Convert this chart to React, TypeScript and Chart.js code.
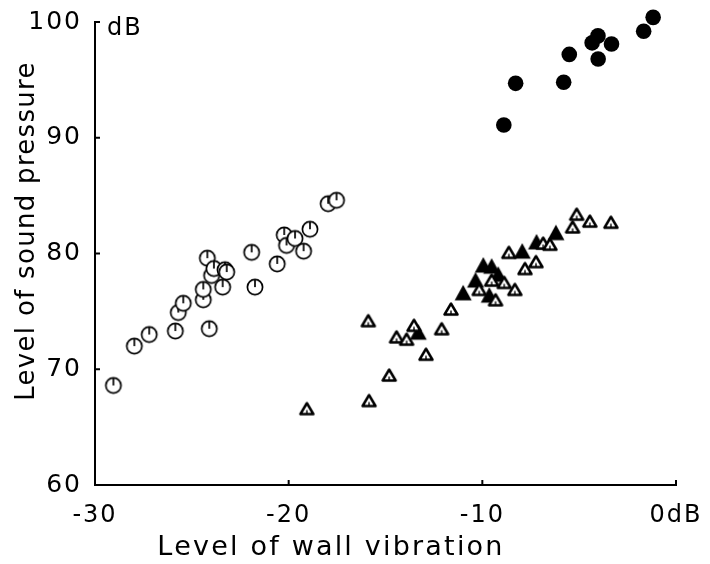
import React, { useEffect, useRef } from 'react';
import { Chart, registerables } from 'chart.js';

Chart.register(...registerables);

const W = 710;
const H = 564;

// ---- axis ticks & titles ----
const xTickValues = [-30, -20, -10, 0];
const xTickLabels = ['-30', '-20', '-10', '0dB'];
const yTickValues = [60, 70, 80, 90, 100];
const yTickLabels = ['60', '70', '80', '90', '100'];
const xTitle = 'Level of wall vibration';
const yTitle = 'Level of sound pressure';
const yUnit = 'dB';

// ---- series: filled circles ----
const filledCircleX = [-8.89, -8.28, -5.8, -5.51, -4.03, -4.33, -3.33, -4.02, -1.67, -1.18];
const filledCircleY = [91.1, 94.7, 94.8, 97.2, 98.8, 98.2, 98.1, 96.8, 99.2, 100.4];

// ---- series: open circles ----
const openCircleX = [-29.05, -27.97, -27.2, -25.85, -24.1, -25.7, -25.44, -24.41, -24.41, -23.41, -21.74, -24.2, -23.98, -23.86, -23.29, -23.2, -21.91, -20.59, -20.23, -20.11, -19.67, -19.23, -18.9, -17.96, -17.53];
const openCircleY = [68.6, 72.0, 73.0, 73.3, 73.5, 74.9, 75.7, 76.0, 76.9, 77.1, 77.1, 79.6, 78.1, 78.7, 78.6, 78.4, 80.1, 79.1, 81.6, 80.7, 81.3, 80.2, 82.1, 84.3, 84.6];

// ---- series: open triangles ----
const openTriangleX = [-19.06, -15.89, -15.85, -14.81, -13.53, -14.43, -13.91, -12.91, -12.1, -11.62, -10.16, -9.32, -9.52, -8.87, -8.32, -7.8, -7.23, -8.63, -6.86, -6.51, -5.34, -5.13, -4.45, -3.36];
const openTriangleY = [66.6, 74.2, 67.3, 69.5, 73.8, 72.8, 72.6, 71.3, 73.5, 75.2, 76.9, 76.0, 77.7, 77.5, 76.9, 78.7, 79.3, 80.1, 80.9, 80.8, 82.3, 83.4, 82.8, 82.7];

// ---- series: filled triangles ----
const filledTriangleX = [-13.31, -10.99, -10.35, -9.95, -9.52, -9.18, -9.64, -7.94, -7.2, -6.2];
const filledTriangleY = [73.2, 76.6, 77.7, 79.0, 78.9, 78.2, 76.4, 80.2, 81.0, 81.8];

const FONT = '"DejaVu Sans"';

function toPoints(xs: number[], ys: number[]) {
  return xs.map((x, i) => ({ x, y: ys[i] }));
}

function makeCanvas(w: number, h: number, draw: (ctx: CanvasRenderingContext2D) => void) {
  const c = document.createElement('canvas');
  c.width = w;
  c.height = h;
  const ctx = c.getContext('2d') as CanvasRenderingContext2D;
  draw(ctx);
  return c;
}

export default function App() {
  const ref = useRef<HTMLCanvasElement>(null);

  useEffect(() => {
    const openCircle = makeCanvas(20, 20, (ctx) => {
      ctx.fillStyle = '#fff';
      ctx.strokeStyle = '#000';
      ctx.lineWidth = 1.7;
      ctx.beginPath();
      ctx.arc(10, 10, 7.6, 0, Math.PI * 2);
      ctx.fill();
      ctx.stroke();
      ctx.beginPath();
      ctx.moveTo(10, 2.5);
      ctx.lineTo(10, 10);
      ctx.stroke();
    });
    const openTriangle = makeCanvas(18, 16, (ctx) => {
      ctx.fillStyle = '#fff';
      ctx.strokeStyle = '#000';
      ctx.lineWidth = 2.5;
      ctx.lineJoin = 'round';
      ctx.beginPath();
      ctx.moveTo(9, 2.5);
      ctx.lineTo(2.5, 13.5);
      ctx.lineTo(15.5, 13.5);
      ctx.closePath();
      ctx.fill();
      ctx.stroke();
      ctx.lineWidth = 1.4;
      ctx.beginPath();
      ctx.moveTo(9, 13);
      ctx.lineTo(9, 9.5);
      ctx.stroke();
    });
    const filledTriangle = makeCanvas(20, 18, (ctx) => {
      ctx.fillStyle = '#000';
      ctx.beginPath();
      ctx.moveTo(10, 1);
      ctx.lineTo(1.5, 16.5);
      ctx.lineTo(18.5, 16.5);
      ctx.closePath();
      ctx.fill();
    });

    const deco = {
      id: 'deco',
      beforeDraw(chart: any) {
        const ctx = chart.ctx;
        ctx.save();
        ctx.fillStyle = '#fff';
        ctx.fillRect(0, 0, chart.width, chart.height);
        ctx.restore();
        ctx.letterSpacing = '2px';
      },
      afterDraw(chart: any) {
        const { ctx, chartArea } = chart;
        const xs = chart.scales.x;
        const ys = chart.scales.y;
        ctx.save();
        ctx.strokeStyle = '#000';
        ctx.lineWidth = 2;
        for (const v of yTickValues.slice(1)) {
          const py = ys.getPixelForValue(v);
          ctx.beginPath();
          ctx.moveTo(chartArea.left, py);
          ctx.lineTo(chartArea.left + 5, py);
          ctx.stroke();
        }
        for (const v of xTickValues.slice(1)) {
          const px = xs.getPixelForValue(v);
          ctx.beginPath();
          ctx.moveTo(px, chartArea.bottom);
          ctx.lineTo(px, chartArea.bottom - 5);
          ctx.stroke();
        }
        ctx.fillStyle = '#000';
        ctx.textBaseline = 'middle';
        // unit near the top of the y axis
        ctx.font = `24px ${FONT}`;
        ctx.letterSpacing = '2px';
        ctx.textAlign = 'left';
        ctx.fillText(yUnit, chartArea.left + 12, ys.getPixelForValue(100) + 7);
        // axis titles
        ctx.font = `27px ${FONT}`;
        ctx.letterSpacing = '2.2px';
        ctx.textAlign = 'center';
        ctx.fillText(xTitle, chartArea.left + 236, chartArea.bottom + 63);
        ctx.font = `26px ${FONT}`;
        ctx.letterSpacing = '1.3px';
        ctx.translate(chartArea.left - 68, chartArea.top + 209);
        ctx.rotate(-Math.PI / 2);
        ctx.fillText(yTitle, 0, 0);
        ctx.restore();
      },
    };

    const chart = new Chart(ref.current as HTMLCanvasElement, {
      type: 'scatter',
      data: {
        datasets: [
          {
            label: 'open circles',
            data: toPoints(openCircleX, openCircleY),
            pointStyle: openCircle as any,
            pointRadius: 8,
            clip: false as any,
          },
          {
            label: 'open triangles',
            data: toPoints(openTriangleX, openTriangleY),
            pointStyle: openTriangle as any,
            pointRadius: 7,
            clip: false as any,
          },
          {
            label: 'filled triangles',
            data: toPoints(filledTriangleX, filledTriangleY),
            pointStyle: filledTriangle as any,
            pointRadius: 8,
            clip: false as any,
          },
          {
            label: 'filled circles',
            data: toPoints(filledCircleX, filledCircleY),
            pointStyle: 'circle',
            pointRadius: 7.8,
            backgroundColor: '#000',
            borderColor: '#000',
            borderWidth: 0,
            clip: false as any,
          },
        ],
      },
      options: {
        responsive: false,
        animation: false,
        events: [],
        layout: { padding: { top: 22, right: 34, left: 0, bottom: 0 } },
        plugins: {
          legend: { display: false },
          tooltip: { enabled: false },
        },
        scales: {
          x: {
            type: 'linear',
            min: -30,
            max: 0,
            afterBuildTicks: (s: any) => {
              s.ticks = xTickValues.map((v) => ({ value: v }));
            },
            afterFit: (s: any) => {
              s.height = 79;
            },
            grid: { display: false },
            border: { display: true, color: '#000', width: 2 },
            ticks: {
              autoSkip: false,
              maxRotation: 0,
              padding: 8,
              color: '#000',
              font: { family: FONT, size: 24 },
              callback: (v: any) => xTickLabels[xTickValues.indexOf(Number(v))] ?? '',
            },
          },
          y: {
            type: 'linear',
            min: 60,
            max: 100,
            afterBuildTicks: (s: any) => {
              s.ticks = yTickValues.map((v) => ({ value: v }));
            },
            afterFit: (s: any) => {
              s.width = 95;
            },
            grid: { display: false },
            border: { display: true, color: '#000', width: 2 },
            ticks: {
              autoSkip: false,
              padding: 5,
              color: '#000',
              font: { family: FONT, size: 25 },
              callback: (v: any) => yTickLabels[yTickValues.indexOf(Number(v))] ?? '',
            },
          },
        },
      },
      plugins: [deco],
    } as any);

    return () => chart.destroy();
  }, []);

  return (
    <div style={{ position: 'fixed', left: 0, top: 0, width: W, height: H, background: '#fff' }}>
      <canvas ref={ref} width={W} height={H} style={{ display: 'block', width: W, height: H }} />
    </div>
  );
}
